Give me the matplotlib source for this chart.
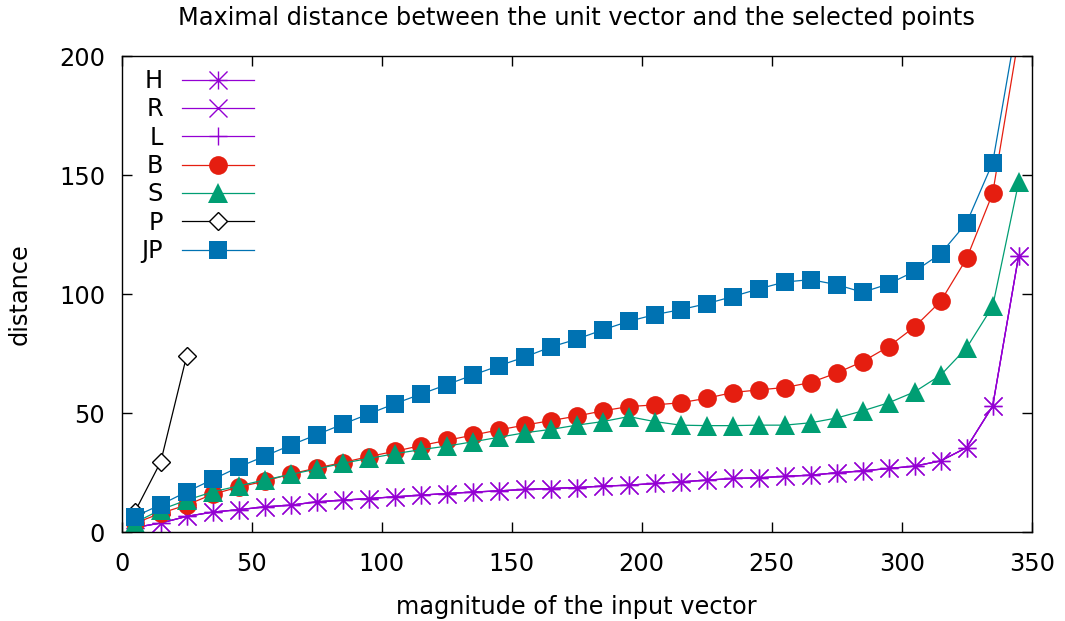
import numpy as np
import matplotlib
matplotlib.use("Agg")
import matplotlib.pyplot as plt
from matplotlib.path import Path

# magnitude of the input vector
mag = [5, 15, 25, 35, 45, 55, 65, 75, 85, 95, 105, 115, 125, 135, 145, 155, 165,
       175, 185, 195, 205, 215, 225, 235, 245, 255, 265, 275, 285, 295, 305, 315,
       325, 335, 345]

# H, R and L give the same distances
h_vals = [2.0, 3.9, 6.7, 8.5, 9.5, 10.7, 11.4, 12.8, 13.5, 14.2, 14.9, 15.6, 16.3,
          16.9, 17.4, 18.0, 18.4, 18.8, 19.4, 19.8, 20.5, 21.2, 21.9, 22.6, 22.9,
          23.5, 24.0, 25.0, 25.8, 26.8, 27.8, 30.0, 35.6, 53.0, 116.2]
r_vals = list(h_vals)
l_vals = list(h_vals)
b_vals = [3.8, 8.0, 11.5, 16.0, 19.0, 21.5, 24.5, 27.0, 29.3, 31.8, 34.0, 36.4, 38.6,
          40.8, 43.0, 45.0, 46.9, 48.8, 51.0, 52.8, 53.5, 54.4, 56.3, 58.7, 59.8,
          60.8, 62.9, 66.9, 71.7, 78.0, 86.3, 97.0, 115.0, 142.3, 208.0]
s_vals = [4.0, 9.5, 13.5, 17.0, 19.5, 22.0, 24.3, 26.6, 29.0, 31.0, 33.0, 34.7, 36.2,
          38.0, 39.9, 41.8, 43.2, 45.0, 46.5, 48.6, 46.5, 45.0, 44.8, 44.8, 45.0,
          45.0, 46.0, 48.0, 51.0, 54.4, 59.0, 66.0, 77.5, 94.9, 147.0]
p_mag = [5, 15, 25]
p_vals = [8.5, 29.6, 74.2]
jp_vals = [6.6, 11.6, 17.0, 22.2, 27.4, 32.0, 36.6, 41.0, 45.4, 49.7, 54.0, 58.0, 62.0,
           66.0, 69.9, 73.6, 77.8, 81.1, 85.0, 88.6, 91.4, 93.5, 96.0, 99.0, 102.2,
           105.1, 106.1, 104.0, 100.8, 104.3, 109.6, 117.0, 130.0, 155.2, 218.0]

# gnuplot style asterisk: + and x together
star = Path([(-1, 0), (1, 0), (0, -1), (0, 1), (-1, -1), (1, 1), (-1, 1), (1, -1)],
            [Path.MOVETO, Path.LINETO] * 4)

purple = "#9400d3"
plt.rcParams["font.family"] = "DejaVu Sans"
plt.rcParams["font.size"] = 17.3

fig = plt.figure(figsize=(10.65, 6.21), dpi=100)
ax = fig.add_axes([0.1143, 0.1428, 0.8544, 0.767])

lw = 0.9
ax.plot(mag, h_vals, color=purple, lw=lw, marker=star, ms=13, mew=1.0, label="H")
ax.plot(mag, r_vals, color=purple, lw=lw, marker="x", ms=13, mew=1.0, label="R")
ax.plot(mag, l_vals, color=purple, lw=lw, marker="+", ms=13, mew=1.0, label="L")
ax.plot(mag, b_vals, color="#e51e10", lw=lw, marker="o", ms=13.5, mew=0, label="B")
ax.plot(mag, s_vals, color="#009e73", lw=lw, marker="^", ms=14, mew=0, label="S")
ax.plot(p_mag, p_vals, color="black", lw=lw, marker="D", ms=9.5, mew=1.0,
        mfc="white", label="P")
ax.plot(mag, jp_vals, color="#0072b2", lw=lw, marker="s", ms=13.5, mew=0, label="JP")

ax.set_xlim(0, 350)
ax.set_ylim(0, 200)
ax.set_xticks(np.arange(0, 351, 50))
ax.set_yticks(np.arange(0, 201, 50))
ax.tick_params(direction="in", length=7, width=1, top=True, right=True)
ax.tick_params(axis="x", pad=14)
ax.tick_params(axis="y", pad=12)
for s in ax.spines.values():
    s.set_linewidth(1)

ax.set_title("Maximal distance between the unit vector and the selected points",
             fontsize=17.3, pad=22)
ax.set_xlabel("magnitude of the input vector", labelpad=14)
ax.set_ylabel("distance", labelpad=20)

ax.legend(loc="upper left", frameon=False, markerfirst=False, handlelength=3.0,
          labelspacing=0.18, borderaxespad=0.3, handletextpad=0.8,
          bbox_to_anchor=(0.003, 1.008))

fig.savefig("out.png", dpi=100)
